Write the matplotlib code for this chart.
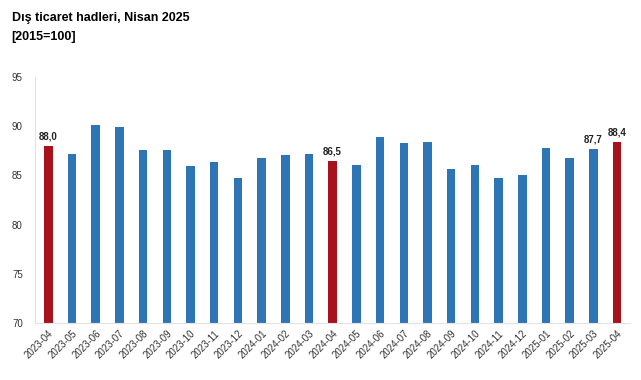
import matplotlib.pyplot as plt

plt.rcParams["font.family"] = ["Liberation Sans", "DejaVu Sans"]

months = ["2023-04", "2023-05", "2023-06", "2023-07", "2023-08", "2023-09",
          "2023-10", "2023-11", "2023-12", "2024-01", "2024-02", "2024-03",
          "2024-04", "2024-05", "2024-06", "2024-07", "2024-08", "2024-09",
          "2024-10", "2024-11", "2024-12", "2025-01", "2025-02", "2025-03",
          "2025-04"]
values = [88.0, 87.2, 90.1, 89.9, 87.6, 87.6, 86.0, 86.4, 84.7, 86.8, 87.1, 87.2,
          86.5, 86.1, 88.9, 88.3, 88.4, 85.7, 86.1, 84.7, 85.1, 87.8, 86.8, 87.7,
          88.4]
highlight = ["2023-04", "2024-04", "2025-04"]
labelled = {"2023-04": "88,0", "2024-04": "86,5", "2025-03": "87,7", "2025-04": "88,4"}

blue = "#2E75B6"
red = "#A8121C"

fig = plt.figure(figsize=(6.41, 3.8), dpi=100)
ax = fig.add_axes([0.055, 0.15, 0.928, 0.647])

x = list(range(len(months)))
colors = [red if m in highlight else blue for m in months]
ax.bar(x, [v - 70 for v in values], bottom=70, width=0.36, color=colors)

for i, m in enumerate(months):
    if m in labelled:
        ax.text(i, values[i] + 0.45, labelled[m], ha="center", va="bottom",
                fontsize=7, fontweight="bold", color="#222222")

ax.set_ylim(70, 95)
ax.set_xlim(-0.55, len(months) - 0.45)
ax.set_yticks([70, 75, 80, 85, 90, 95])
ax.set_xticks(x)
ax.set_xticklabels(months, rotation=45, ha="right", rotation_mode="anchor")
ax.tick_params(axis="both", length=0, labelsize=7, colors="#333333")
ax.tick_params(axis="y", pad=9)
ax.tick_params(axis="x", pad=4)
for s in ["top", "right"]:
    ax.spines[s].set_visible(False)
ax.spines["left"].set_color("#E3E3E3")
ax.spines["bottom"].set_color("#E3E3E3")

fig.text(0.018, 0.953, "Dış ticaret hadleri, Nisan 2025", fontsize=9,
         fontweight="bold", ha="left", va="center")
fig.text(0.018, 0.903, "[2015=100]", fontsize=9, fontweight="bold",
         ha="left", va="center")

fig.savefig("out.png", dpi=100)
